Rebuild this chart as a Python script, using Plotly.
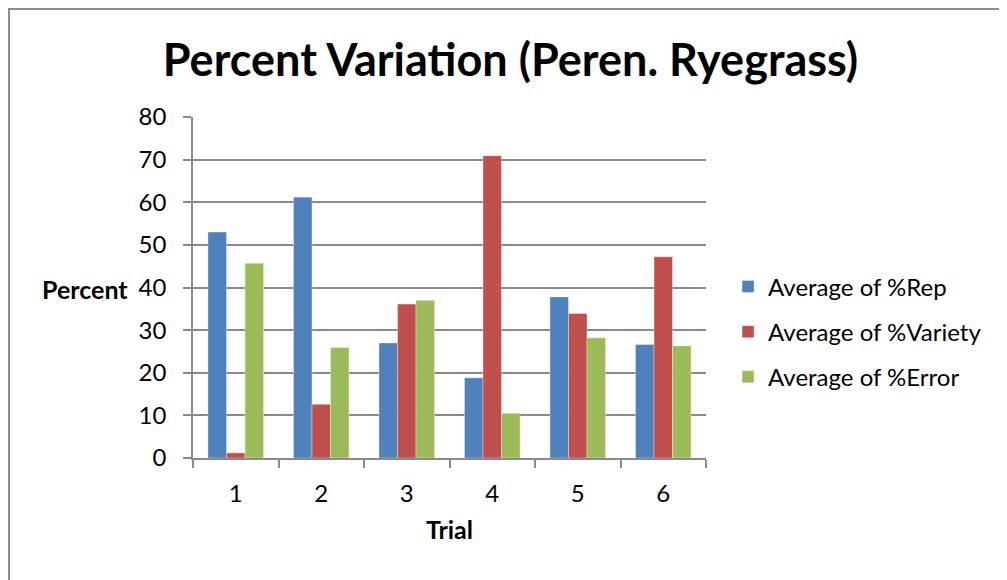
import plotly.graph_objects as go

trials = ['1', '2', '3', '4', '5', '6']
avg_rep = [53.0, 61.2, 27.0, 18.8, 37.8, 26.6]
avg_variety = [1.2, 12.6, 36.1, 70.9, 33.9, 47.2]
avg_error = [45.7, 25.9, 37.0, 10.5, 28.2, 26.3]

font_name = "Lato"
grid_col = "#8a8a8a"

fig = go.Figure()

# excel 2007 default palette
fig.add_trace(go.Bar(x=trials, y=avg_rep, name='Average of %Rep',
                     marker_color='#4F81BD', legendgroup='a'))
fig.add_trace(go.Bar(x=trials, y=avg_variety, name='Average of %Variety',
                     marker_color='#C0504D', legendgroup='b'))
fig.add_trace(go.Bar(x=trials, y=avg_error, name='Average of %Error',
                     marker_color='#9BBB59', legendgroup='c'))

fig.update_traces(marker_line_width=0.6, marker_line_color='rgba(255,255,255,0.6)')

# note: the page body has an 8px margin, so everything is laid out 8px up/left
fig.update_layout(
    width=1007, height=580,
    margin=dict(l=185, r=309, t=109, b=130),
    paper_bgcolor='white', plot_bgcolor='white',
    font=dict(family=font_name, size=24, color='black'),
    barmode='group', bargap=0.35, bargroupgap=0,
    title=dict(text='<b>Percent Variation (Peren. Ryegrass)</b>',
               x=0.499, xanchor='center', y=0.91, yanchor='middle',
               font=dict(size=45, family=font_name)),
    legend=dict(x=1.043, xanchor='left', y=0.37, yanchor='middle',
                font=dict(size=24), tracegroupgap=11, itemwidth=30),
    showlegend=True,
)

fig.update_xaxes(showline=True, linecolor=grid_col, linewidth=1.5,
                 ticks='outside', tickson='boundaries', ticklen=8,
                 tickcolor=grid_col, tickwidth=1.5, ticklabelstandoff=13,
                 title=dict(text='<b>Trial</b>', font=dict(size=25), standoff=16))
fig.update_yaxes(range=[0, 80], dtick=10, showgrid=True, gridcolor=grid_col,
                 gridwidth=1.5, showline=True, linecolor=grid_col, linewidth=1.5,
                 ticks='outside', ticklen=8, tickcolor=grid_col, tickwidth=1.5,
                 zeroline=False, ticklabelstandoff=12)

# horizontal y title like excel
fig.add_annotation(text='<b>Percent</b>', xref='paper', yref='paper',
                   x=-0.1228, y=0.4956, xanchor='right', yanchor='middle',
                   showarrow=False, font=dict(size=25))

# chart area border
fig.add_shape(type='rect', xref='paper', yref='paper',
              x0=-0.3587, x1=1.7, y0=-0.5, y1=1.3167,
              line=dict(color='#8c8c8c', width=2), layer='below')

fig.write_html("out.html")
